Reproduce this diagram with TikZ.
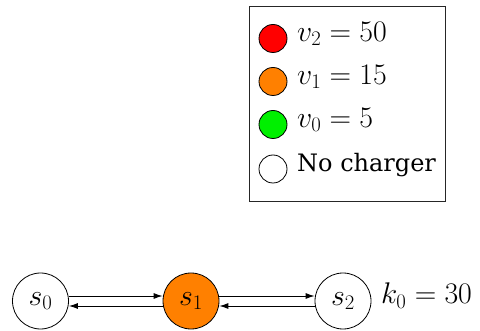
\documentclass[tikz,border=0pt]{standalone}
\usepackage{graphicx}
\usepackage{fontspec}
\setmainfont{DejaVu Serif}
\usetikzlibrary{arrows.meta}
\definecolor{myorange}{RGB}{255,128,0}
\definecolor{mygreen}{RGB}{0,240,0}
\newcommand{\mybigmath}[1]{\scalebox{1.2}{$#1$}}
\begin{document}
\begin{tikzpicture}[x=1pt,y=-1pt,
  state/.style={circle,draw,line width=0.8pt,minimum size=56pt,inner sep=0pt,font=\fontsize{24}{28}\selectfont},
  legdot/.style={circle,draw,line width=0.8pt,minimum size=28pt,inner sep=0pt},
  legtext/.style={anchor=mid west,inner sep=0pt,font=\fontsize{24}{28}\selectfont},
  edge/.style={line width=0.9pt,-{Latex[length=9pt,width=6pt]}}]
\useasboundingbox (0,0) rectangle (480,331);
\node[draw=black!85,line width=1pt,minimum width=196pt,minimum height=195pt,inner sep=0pt] (legend) at (347,104) {};
\node[legdot,fill=red] (d2) at (273,38.5) {};
\node[legdot,fill=myorange] (d1) at (273,81.5) {};
\node[legdot,fill=mygreen] (d0) at (273,124.5) {};
\node[legdot,fill=white] (dn) at (273,169) {};
\node[legtext] (t2) at (297,38.5) {\mybigmath{v_2 = 50}};
\node[legtext] (t1) at (297,81.5) {\mybigmath{v_1 = 15}};
\node[legtext] (t0) at (297,124.5) {\mybigmath{v_0 = 5}};
\node[legtext] (tn) at (297,169) {No charger};
\node[state] (s0) at (40.5,301) {\mybigmath{s_0}};
\node[state,fill=myorange] (s1) at (191,301) {\mybigmath{s_1}};
\node[state] (s2) at (343,301) {\mybigmath{s_2}};
\node[legtext] (k) at (381,301) {\mybigmath{k_0 = 30}};
\draw[edge] ([yshift=5pt]s0.east) -- ([yshift=5pt]s1.west);
\draw[edge] ([yshift=-5pt]s1.west) -- ([yshift=-5pt]s0.east);
\draw[edge] ([yshift=5pt]s1.east) -- ([yshift=5pt]s2.west);
\draw[edge] ([yshift=-5pt]s2.west) -- ([yshift=-5pt]s1.east);
\end{tikzpicture}
\end{document}
